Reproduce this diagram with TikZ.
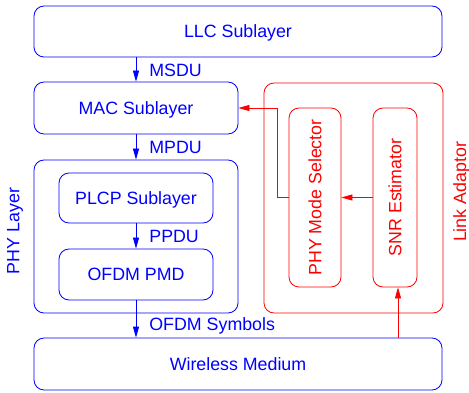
\documentclass[tikz,border=0pt]{standalone}
\usepackage{fontspec}
\setmainfont{Liberation Sans}
\usetikzlibrary{arrows.meta}

\tikzset{
  layerbox/.style={draw, rounded corners=10pt, line width=0.8pt, inner sep=0pt, text depth=0pt},
  flow/.style={line width=0.8pt, -{Triangle[length=11pt,width=6pt]}},
  flowlabel/.style={inner sep=0pt, anchor=west},
  sidelabel/.style={inner sep=0pt, rotate=90, anchor=base},
}

\begin{document}
\begin{tikzpicture}[x=1pt,y=-1pt]
\useasboundingbox (0,0) rectangle (469,393);
{\fontsize{17.8}{20}\selectfont

% Protocol stack (blue)
\node [layerbox, blue, minimum width=408pt, minimum height=51pt] (llc) at (238,31.5) {LLC Sublayer};
\node [layerbox, blue, minimum width=204pt, minimum height=52pt] (mac) at (136,108) {MAC Sublayer};
\node [layerbox, blue, minimum width=204pt, minimum height=153pt] (phy) at (136,236.5) {};
\node [layerbox, blue, minimum width=154pt, minimum height=50pt] (plcp) at (136,198) {PLCP Sublayer};
\node [layerbox, blue, minimum width=154pt, minimum height=51pt] (pmd) at (136,274.5) {OFDM PMD};
\node [layerbox, blue, minimum width=408pt, minimum height=52pt] (medium) at (238,364) {Wireless Medium};
\node [sidelabel, blue] (phylabel) at (19.5,231) {PHY Layer};

% Link adaptor (red)
\node [layerbox, red, minimum width=179pt, minimum height=230pt] (adaptor) at (353.5,198) {};
\node [layerbox, red, rotate=90, minimum width=179pt, minimum height=52pt] (selector) at (315,197.5) {PHY Mode Selector};
\node [layerbox, red, rotate=90, minimum width=179pt, minimum height=44pt] (snr) at (395,197.5) {SNR Estimator};
\node [sidelabel, red] (adaptorlabel) at (466,192) {Link Adaptor};

% Data flow down the stack
\draw [flow, blue] (llc.south -| mac) -- (mac) node [flowlabel, pos=0.55, xshift=13pt] {MSDU};
\draw [flow, blue] (mac) -- (phy) node [flowlabel, midway, xshift=13pt] {MPDU};
\draw [flow, blue] (plcp) -- (pmd) node [flowlabel, midway, xshift=13pt] {PPDU};
\draw [flow, blue] (pmd) -- (medium.north -| pmd) node [flowlabel, pos=0.68, xshift=13pt] {OFDM Symbols};

% Feedback loop
\coordinate (tap) at (398,338);
\coordinate (bend) at (277,108);
\draw [flow, red] (tap) -- (tap |- snr.west);
\draw [flow, red] (snr.north) -- (selector.south);
\draw [flow, red] (selector.north) -| (bend) -- (mac.east);
}
\end{tikzpicture}
\end{document}
